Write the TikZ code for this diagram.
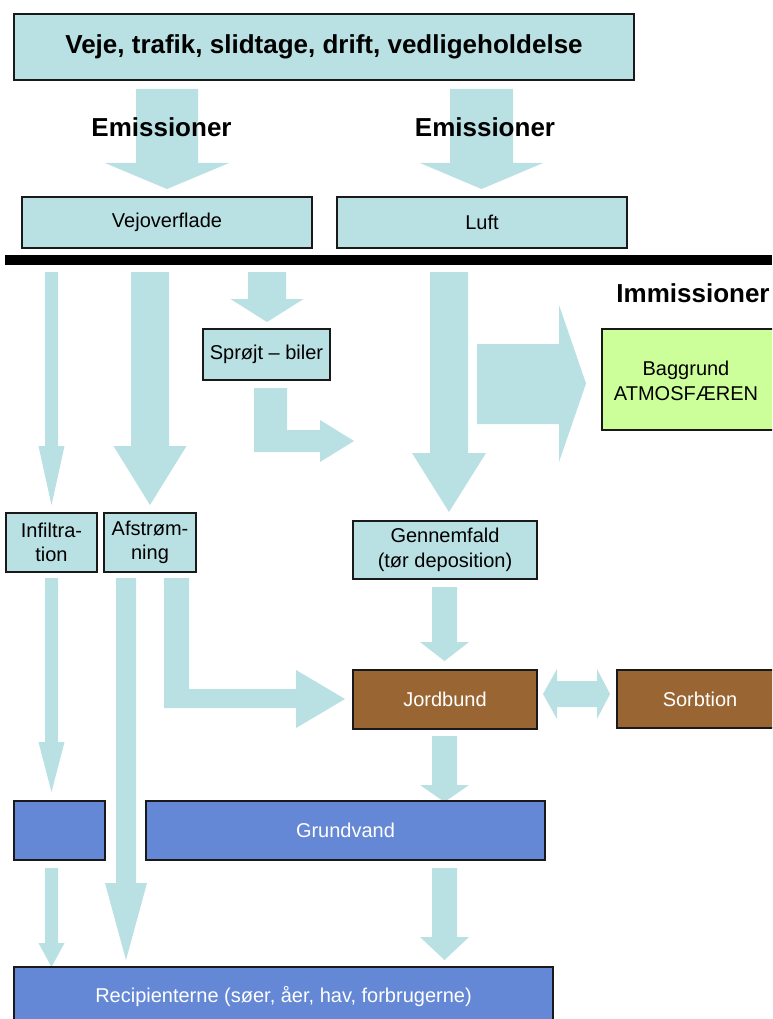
\documentclass[tikz,border=0pt]{standalone}
\usepackage{fontspec}
\setmainfont{Liberation Sans}
\definecolor{cyanfill}{RGB}{185,224,227}
\definecolor{brownfill}{RGB}{153,102,51}
\definecolor{bluefill}{RGB}{100,136,214}
\definecolor{greenfill}{RGB}{204,255,153}
\definecolor{edgecol}{RGB}{25,25,25}
% vertical block arrow: centre x, top, head base, tip, half shaft, half head
\newcommand{\myVArrow}[6]{%
  \fill[flow] (#1-#5,#2) -- (#1+#5,#2) -- (#1+#5,#3) -- (#1+#6,#3) -- (#1,#4)
    -- (#1-#6,#3) -- (#1-#5,#3) -- cycle;}
\begin{document}
\begin{tikzpicture}[x=1pt,y=-1pt,
  flow/.style={fill=cyanfill},
  box/.style={draw=edgecol, line width=1.8pt, inner sep=0pt, align=center,
    font=\fontsize{20}{24.5}\selectfont},
  lbox/.style={box, fill=cyanfill, text=black},
  bbox/.style={box, fill=brownfill, text=white},
  wbox/.style={box, fill=bluefill, text=white},
  gbox/.style={box, fill=greenfill, text=black},
  small/.style={inner sep=0pt, align=center, font=\fontsize{20}{24.5}\selectfont},
  big/.style={inner sep=0pt, font=\bfseries\fontsize{26}{30}\selectfont}]
\clip (0,0) rectangle (772,1019);
\fill[white] (0,0) rectangle (772,1019);

% ---- block arrows ----
\myVArrow{167}{89}{163}{189}{31}{62}
\myVArrow{481.5}{89}{163}{189}{31.5}{61.5}
\myVArrow{51.5}{272}{446}{505}{6.5}{13}
\myVArrow{150}{272}{446}{505}{19}{36.5}
\myVArrow{267}{272}{299}{322}{19}{36.5}
\myVArrow{449}{272}{453}{512}{19}{37}
\myVArrow{51.5}{578}{742}{792}{6.5}{13}
\myVArrow{126}{578}{883}{960}{10}{21}
\myVArrow{444.5}{587}{642}{661}{12.5}{24.5}
\myVArrow{444.5}{736}{785}{802}{12.5}{24.5}
\myVArrow{51.5}{868}{943}{967}{6.5}{13}
\myVArrow{444.5}{868}{937}{960}{12.5}{24.5}
% right arrow to Baggrund
\fill[flow] (477,344) -- (559,344) -- (559,305) -- (586,383.5) -- (559,462)
  -- (559,424) -- (477,424) -- cycle;
% L arrow below Sprøjt
\fill[flow] (254,388) -- (287,388) -- (287,430) -- (320,430) -- (320,420)
  -- (354,441) -- (320,462) -- (320,452) -- (254,452) -- cycle;
% L arrow Afstrømning -> Jordbund
\fill[flow] (164,578) -- (189,578) -- (189,689) -- (296,689) -- (296,670)
  -- (345,699) -- (296,728) -- (296,708) -- (164,708) -- cycle;
% double arrow Jordbund <-> Sorbtion
\fill[flow] (543,694) -- (557,669) -- (557,681) -- (597,681) -- (597,669)
  -- (610,694) -- (597,719) -- (597,707) -- (557,707) -- (557,719) -- cycle;

% ---- boxes ----
\node[lbox, minimum width=620, minimum height=66, font=\bfseries\fontsize{26}{30}\selectfont]
  (top) at (324,47) {Veje, trafik, slidtage, drift, vedligeholdelse};
\node[lbox, minimum width=290, minimum height=51] (vejo) at (167,222.5) {Vejoverflade};
\node[lbox, minimum width=290, minimum height=51] (luft) at (482,222.5) {Luft};
\node[lbox, minimum width=127, minimum height=51] (sprojt) at (266.5,354.5) {Sprøjt – biler};
\node[gbox, minimum width=198, minimum height=101] (bag) at (701,379.5) {};
\node[small] (bagtxt) at (686,381) {Baggrund\\ATMOSFÆREN};
\node[lbox, minimum width=91, minimum height=59] (infil) at (51.5,542.5) {Infiltra-\\tion};
\node[lbox, minimum width=92, minimum height=59] (afstr) at (150,542.5) {Afstrøm-\\ning};
\node[lbox, minimum width=184, minimum height=58] (genn) at (445,550) {Gennemfald\\(tør deposition)};
\node[bbox, minimum width=184, minimum height=59] (jord) at (445,699.5) {Jordbund};
\node[bbox, minimum width=183, minimum height=58] (sorb) at (708.5,699) {};
\node[small, text=white] (sorbtxt) at (700,699) {Sorbtion};
\node[wbox, minimum width=91, minimum height=59] (gwsmall) at (59.5,830.5) {};
\node[wbox, minimum width=399, minimum height=59] (grund) at (345.5,830.5) {Grundvand};
\node[wbox, minimum width=539, minimum height=83] (recip) at (283.5,1008.5) {};
\node[small, text=white] (reciptxt) at (283.5,997) {Recipienterne (søer, åer, hav, forbrugerne)};

% ---- separator bar ----
\fill[black] (5,255) rectangle (772,265);

% ---- headings ----
\node[big, anchor=base] (em1) at (161.5,137) {Emissioner};
\node[big, anchor=base] (em2) at (485,137) {Emissioner};
\node[big, anchor=base] (imm) at (693,302) {Immissioner};
\end{tikzpicture}
\end{document}
